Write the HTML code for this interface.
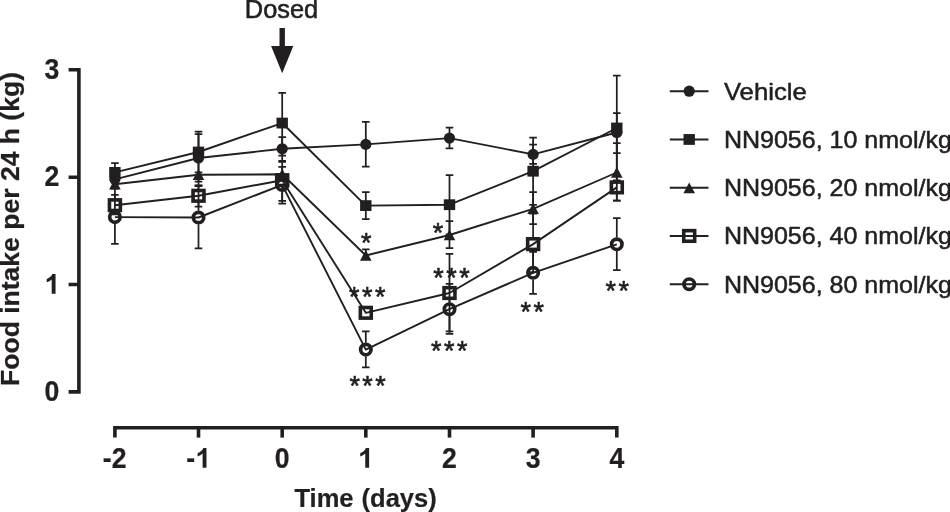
<!DOCTYPE html>
<html><head><meta charset="utf-8"><title>chart</title>
<style>html,body{margin:0;padding:0;background:#fff;}body{width:950px;height:512px;overflow:hidden;}svg{display:block;will-change:transform;}text{font-family:"Liberation Sans",sans-serif;fill:#231f20;}</style>
</head><body>
<svg width="950" height="512" viewBox="0 0 950 512">
<rect width="950" height="512" fill="#fff"/>
<g stroke="#231f20" stroke-width="3.6" fill="none" stroke-linecap="butt">
<path d="M68.6 69.8 H78.9 V391.9 H68.6"/>
<path d="M78.9 177.2 H68.6 M78.9 284.5 H68.6" />
<path d="M114.9 437.6 V427.7 H616.8 V437.6"/>
<path d="M198.5 427.7 V437.6"/>
<path d="M282.2 427.7 V437.6"/>
<path d="M365.8 427.7 V437.6"/>
<path d="M449.5 427.7 V437.6"/>
<path d="M533.1 427.7 V437.6"/>
</g>
<text transform="translate(59.3 78.8) scale(0.93 1)" font-size="28.6px" text-anchor="end" font-weight="bold" stroke="#231f20" stroke-width="0.25" stroke-linejoin="round">3</text>
<text transform="translate(59.3 186.2) scale(0.93 1)" font-size="28.6px" text-anchor="end" font-weight="bold" stroke="#231f20" stroke-width="0.25" stroke-linejoin="round">2</text>
<text transform="translate(59.3 400.9) scale(0.93 1)" font-size="28.6px" text-anchor="end" font-weight="bold" stroke="#231f20" stroke-width="0.25" stroke-linejoin="round">0</text>
<path d="M55.55 293.70 L51.68 293.70 L51.68 279.48 Q49.56 281.41 46.68 282.34 L46.68 278.92 Q48.20 278.43 49.97 277.08 Q51.75 275.73 52.41 273.93 L55.55 273.93 Z" fill="#231f20"/>
<text transform="translate(114.7 468.0) scale(0.93 1)" font-size="28.6px" text-anchor="middle" font-weight="bold" stroke="#231f20" stroke-width="0.25" stroke-linejoin="round">-2</text>
<text transform="translate(282.2 468.0) scale(0.93 1)" font-size="28.6px" text-anchor="middle" font-weight="bold" stroke="#231f20" stroke-width="0.25" stroke-linejoin="round">0</text>
<text transform="translate(449.5 468.0) scale(0.93 1)" font-size="28.6px" text-anchor="middle" font-weight="bold" stroke="#231f20" stroke-width="0.25" stroke-linejoin="round">2</text>
<text transform="translate(533.1 468.0) scale(0.93 1)" font-size="28.6px" text-anchor="middle" font-weight="bold" stroke="#231f20" stroke-width="0.25" stroke-linejoin="round">3</text>
<text transform="translate(616.8 468.0) scale(0.93 1)" font-size="28.6px" text-anchor="middle" font-weight="bold" stroke="#231f20" stroke-width="0.25" stroke-linejoin="round">4</text>
<path d="M369.12 467.80 L365.25 467.80 L365.25 453.58 Q363.13 455.51 360.25 456.44 L360.25 453.02 Q361.77 452.53 363.54 451.18 Q365.32 449.83 365.98 448.03 L369.12 448.03 Z" fill="#231f20"/>
<path d="M206.47 467.80 L202.60 467.80 L202.60 453.58 Q200.48 455.51 197.60 456.44 L197.60 453.02 Q199.12 452.53 200.89 451.18 Q202.67 449.83 203.33 448.03 L206.47 448.03 Z" fill="#231f20"/>
<text transform="translate(186.35000000000002 468.0) scale(0.93 1)" font-size="28.6px" text-anchor="start" font-weight="bold" stroke="#231f20" stroke-width="0.25" stroke-linejoin="round">-</text>
<text transform="translate(365.6 507.3) scale(1.0 1)" font-size="25.5px" text-anchor="middle" font-weight="bold" stroke="#231f20" stroke-width="0.2" stroke-linejoin="round" word-spacing="1">Time (days)</text>
<text font-weight="bold" font-size="25px" text-anchor="middle" stroke="#231f20" stroke-width="0.25" transform="translate(18.5 229) rotate(-90) scale(1.062 1)">Food intake per 24 h (kg)</text>
<text transform="translate(281.5 17.9) scale(1.0 1)" font-size="25.4px" text-anchor="middle" stroke="#231f20" stroke-width="0.55" stroke-linejoin="round">Dosed</text>
<path d="M279.5 28.1 H284.9 V46.1 H293.3 L282.2 73.2 L271.1 46.1 H279.5 Z" fill="#231f20"/>
<g stroke="#231f20" stroke-width="1.75" fill="none">
<path d="M198.5 158 V134.2 M194.7 134.2 H202.3"/>
<path d="M198.5 158 V181.6 M194.7 181.6 H202.3"/>
<path d="M282.2 148.8 V137.0 M278.4 137.0 H286.0"/>
<path d="M282.2 148.8 V160.8 M278.4 160.8 H286.0"/>
<path d="M365.8 144.4 V121.9 M362.0 121.9 H369.6"/>
<path d="M365.8 144.4 V166.6 M362.0 166.6 H369.6"/>
<path d="M449.5 138.1 V127.5 M445.7 127.5 H453.3"/>
<path d="M449.5 138.1 V148.4 M445.7 148.4 H453.3"/>
<path d="M533.1 154.4 V144.6 M529.3000000000001 144.6 H536.9"/>
<path d="M533.1 154.4 V163.85 M529.3000000000001 163.85 H536.9"/>
<path d="M616.8 132.5 V113.1 M613.0 113.1 H620.5999999999999"/>
<path d="M616.8 132.5 V153.1 M613.0 153.1 H620.5999999999999"/>
<path d="M114.9 172.4 V163.20000000000002 M111.10000000000001 163.20000000000002 H118.7"/>
<path d="M198.5 152 V131.6 M194.7 131.6 H202.3"/>
<path d="M198.5 152 V172.3 M194.7 172.3 H202.3"/>
<path d="M282.2 123.05 V92.8 M278.4 92.8 H286.0"/>
<path d="M282.2 123.05 V155.5 M278.4 155.5 H286.0"/>
<path d="M365.8 205.6 V192.2 M362.0 192.2 H369.6"/>
<path d="M365.8 205.6 V219.2 M362.0 219.2 H369.6"/>
<path d="M449.5 204.7 V175.0 M445.7 175.0 H453.3"/>
<path d="M449.5 204.7 V234.39999999999998 M445.7 234.39999999999998 H453.3"/>
<path d="M533.1 171.2 V137.6 M529.3000000000001 137.6 H536.9"/>
<path d="M533.1 171.2 V204.79999999999998 M529.3000000000001 204.79999999999998 H536.9"/>
<path d="M616.8 128 V75.6 M613.0 75.6 H620.5999999999999"/>
<path d="M616.8 128 V180.4 M613.0 180.4 H620.5999999999999"/>
<path d="M198.5 174.8 V185.60000000000002 M194.7 185.60000000000002 H202.3"/>
<path d="M282.2 174.3 V166.9 M278.4 166.9 H286.0"/>
<path d="M365.8 255.5 V249.4 M362.0 249.4 H369.6"/>
<path d="M449.5 235 V221.1 M445.7 221.1 H453.3"/>
<path d="M449.5 235 V248.1 M445.7 248.1 H453.3"/>
<path d="M533.1 208.8 V192.0 M529.3000000000001 192.0 H536.9"/>
<path d="M533.1 208.8 V224.10000000000002 M529.3000000000001 224.10000000000002 H536.9"/>
<path d="M616.8 172.5 V143.1 M613.0 143.1 H620.5999999999999"/>
<path d="M616.8 172.5 V200.6 M613.0 200.6 H620.5999999999999"/>
<path d="M114.9 198.39999999999998 V194.79999999999998 M111.10000000000001 194.79999999999998 H118.7"/>
<path d="M114.9 212.0 V214.39999999999998 M111.10000000000001 214.39999999999998 H118.7"/>
<path d="M198.5 189.0 V185.4 M194.7 185.4 H202.3"/>
<path d="M198.5 202.60000000000002 V206.60000000000002 M194.7 206.60000000000002 H202.3"/>
<path d="M282.2 173.39999999999998 V161.89999999999998 M278.4 161.89999999999998 H286.0"/>
<path d="M282.2 187.0 V200.79999999999998 M278.4 200.79999999999998 H286.0"/>
<path d="M449.5 286.2 V253.8 M445.7 253.8 H453.3"/>
<path d="M449.5 299.8 V331.3 M445.7 331.3 H453.3"/>
<path d="M533.1 237.29999999999998 V213.6 M529.3000000000001 213.6 H536.9"/>
<path d="M533.1 250.9 V272.1 M529.3000000000001 272.1 H536.9"/>
<path d="M616.8 194.20000000000002 V200.6 M613.0 200.6 H620.5999999999999"/>
<path d="M114.9 210.29999999999998 V188.7 M111.10000000000001 188.7 H118.7"/>
<path d="M114.9 223.9 V243.9 M111.10000000000001 243.9 H118.7"/>
<path d="M198.5 210.7 V186.2 M194.7 186.2 H202.3"/>
<path d="M198.5 224.3 V248.4 M194.7 248.4 H202.3"/>
<path d="M282.2 191.70000000000002 V203.70000000000002 M278.4 203.70000000000002 H286.0"/>
<path d="M365.8 342.8 V331.40000000000003 M362.0 331.40000000000003 H369.6"/>
<path d="M365.8 356.40000000000003 V367.3 M362.0 367.3 H369.6"/>
<path d="M449.5 302.4 V283.8 M445.7 283.8 H453.3"/>
<path d="M449.5 316.0 V333.8 M445.7 333.8 H453.3"/>
<path d="M533.1 266.0 V251.8 M529.3000000000001 251.8 H536.9"/>
<path d="M533.1 279.6 V293.8 M529.3000000000001 293.8 H536.9"/>
<path d="M616.8 237.5 V218.20000000000002 M613.0 218.20000000000002 H620.5999999999999"/>
<path d="M616.8 251.10000000000002 V270.1 M613.0 270.1 H620.5999999999999"/>
</g>
<g stroke="#231f20" stroke-width="1.9" fill="none" stroke-linejoin="round">
<path d="M114.9 179.3 L198.5 158 L282.2 148.8 L365.8 144.4 L449.5 138.1 L533.1 154.4 L616.8 132.5"/>
<path d="M114.9 172.4 L198.5 152 L282.2 123.05 L365.8 205.6 L449.5 204.7 L533.1 171.2 L616.8 128"/>
<path d="M114.9 184.2 L198.5 174.8 L282.2 174.3 L365.8 255.5 L449.5 235 L533.1 208.8 L616.8 172.5"/>
<path d="M114.9 205.2 L198.5 195.8 L282.2 180.2 L365.8 312.8 L449.5 293 L533.1 244.1 L616.8 187.4"/>
<path d="M114.9 217.1 L198.5 217.5 L282.2 184.9 L365.8 349.6 L449.5 309.2 L533.1 272.8 L616.8 244.3"/>
</g>
<circle cx="114.9" cy="217.1" r="5.2" fill="none" stroke="#231f20" stroke-width="3.7"/>
<circle cx="198.5" cy="217.5" r="5.2" fill="none" stroke="#231f20" stroke-width="3.7"/>
<circle cx="282.2" cy="184.9" r="5.2" fill="none" stroke="#231f20" stroke-width="3.7"/>
<circle cx="365.8" cy="349.6" r="5.2" fill="none" stroke="#231f20" stroke-width="3.7"/>
<circle cx="449.5" cy="309.2" r="5.2" fill="none" stroke="#231f20" stroke-width="3.7"/>
<circle cx="533.1" cy="272.8" r="5.2" fill="none" stroke="#231f20" stroke-width="3.7"/>
<circle cx="616.8" cy="244.3" r="5.2" fill="none" stroke="#231f20" stroke-width="3.7"/>
<rect x="109.45" y="199.89999999999998" width="10.9" height="10.6" fill="none" stroke="#231f20" stroke-width="3.6"/>
<rect x="193.05" y="190.5" width="10.9" height="10.6" fill="none" stroke="#231f20" stroke-width="3.6"/>
<rect x="276.75" y="174.89999999999998" width="10.9" height="10.6" fill="none" stroke="#231f20" stroke-width="3.6"/>
<rect x="360.35" y="307.5" width="10.9" height="10.6" fill="none" stroke="#231f20" stroke-width="3.6"/>
<rect x="444.05" y="287.7" width="10.9" height="10.6" fill="none" stroke="#231f20" stroke-width="3.6"/>
<rect x="527.65" y="238.79999999999998" width="10.9" height="10.6" fill="none" stroke="#231f20" stroke-width="3.6"/>
<rect x="611.3499999999999" y="182.1" width="10.9" height="10.6" fill="none" stroke="#231f20" stroke-width="3.6"/>
<path d="M114.9 178.6 L120.7 189.5 L109.10000000000001 189.5 Z" fill="#231f20"/>
<path d="M198.5 169.20000000000002 L204.3 180.10000000000002 L192.7 180.10000000000002 Z" fill="#231f20"/>
<path d="M282.2 168.70000000000002 L288.0 179.60000000000002 L276.4 179.60000000000002 Z" fill="#231f20"/>
<path d="M365.8 249.9 L371.6 260.8 L360.0 260.8 Z" fill="#231f20"/>
<path d="M449.5 229.4 L455.3 240.3 L443.7 240.3 Z" fill="#231f20"/>
<path d="M533.1 203.20000000000002 L538.9 214.10000000000002 L527.3000000000001 214.10000000000002 Z" fill="#231f20"/>
<path d="M616.8 166.9 L622.5999999999999 177.8 L611.0 177.8 Z" fill="#231f20"/>
<rect x="109.2" y="167.0" width="11.4" height="10.8" fill="#231f20"/>
<rect x="192.8" y="146.6" width="11.4" height="10.8" fill="#231f20"/>
<rect x="276.5" y="117.64999999999999" width="11.4" height="10.8" fill="#231f20"/>
<rect x="360.1" y="200.2" width="11.4" height="10.8" fill="#231f20"/>
<rect x="443.8" y="199.29999999999998" width="11.4" height="10.8" fill="#231f20"/>
<rect x="527.4" y="165.79999999999998" width="11.4" height="10.8" fill="#231f20"/>
<rect x="611.0999999999999" y="122.6" width="11.4" height="10.8" fill="#231f20"/>
<circle cx="114.9" cy="179.3" r="5.6" fill="#231f20"/>
<circle cx="198.5" cy="158" r="5.6" fill="#231f20"/>
<circle cx="282.2" cy="148.8" r="5.6" fill="#231f20"/>
<circle cx="365.8" cy="144.4" r="5.6" fill="#231f20"/>
<circle cx="449.5" cy="138.1" r="5.6" fill="#231f20"/>
<circle cx="533.1" cy="154.4" r="5.6" fill="#231f20"/>
<circle cx="616.8" cy="132.5" r="5.6" fill="#231f20"/>
<text font-size="26.8px" text-anchor="middle" letter-spacing="2.55" stroke="#231f20" stroke-width="0.6" stroke-linejoin="round" x="367.57" y="251.6">*</text>
<text font-size="26.8px" text-anchor="middle" letter-spacing="2.55" stroke="#231f20" stroke-width="0.6" stroke-linejoin="round" x="439.27" y="241.8">*</text>
<text font-size="26.8px" text-anchor="middle" letter-spacing="2.55" stroke="#231f20" stroke-width="0.6" stroke-linejoin="round" x="368.46999999999997" y="306.0">***</text>
<text font-size="26.8px" text-anchor="middle" letter-spacing="2.55" stroke="#231f20" stroke-width="0.6" stroke-linejoin="round" x="368.87" y="394.8">***</text>
<text font-size="26.8px" text-anchor="middle" letter-spacing="2.55" stroke="#231f20" stroke-width="0.6" stroke-linejoin="round" x="452.77" y="286.7">***</text>
<text font-size="26.8px" text-anchor="middle" letter-spacing="2.55" stroke="#231f20" stroke-width="0.6" stroke-linejoin="round" x="450.46999999999997" y="360.3">***</text>
<text font-size="26.8px" text-anchor="middle" letter-spacing="2.55" stroke="#231f20" stroke-width="0.6" stroke-linejoin="round" x="533.5699999999999" y="320.5">**</text>
<text font-size="26.8px" text-anchor="middle" letter-spacing="2.55" stroke="#231f20" stroke-width="0.6" stroke-linejoin="round" x="618.47" y="299.8">**</text>
<path d="M669.8 91.2 H708.5" stroke="#231f20" stroke-width="1.9"/>
<circle cx="689.2" cy="91.2" r="5.6" fill="#231f20"/>
<text transform="translate(723.9 99.7) scale(1.08 1)" font-size="23.8px" text-anchor="start" stroke="#231f20" stroke-width="0.5" stroke-linejoin="round">Vehicle</text>
<path d="M669.8 139.45 H708.5" stroke="#231f20" stroke-width="1.9"/>
<rect x="683.5" y="134.04999999999998" width="11.4" height="10.8" fill="#231f20"/>
<text transform="translate(723.9 147.95) scale(1.052 1)" font-size="23.8px" text-anchor="start" stroke="#231f20" stroke-width="0.5" stroke-linejoin="round">NN9056, 10 nmol/kg</text>
<path d="M669.8 187.7 H708.5" stroke="#231f20" stroke-width="1.9"/>
<path d="M689.2 182.4 L695.0 193.3 L683.4000000000001 193.3 Z" fill="#231f20"/>
<text transform="translate(723.9 196.2) scale(1.052 1)" font-size="23.8px" text-anchor="start" stroke="#231f20" stroke-width="0.5" stroke-linejoin="round">NN9056, 20 nmol/kg</text>
<path d="M669.8 235.95 H708.5" stroke="#231f20" stroke-width="1.9"/>
<rect x="683.75" y="230.64999999999998" width="10.9" height="10.6" fill="none" stroke="#231f20" stroke-width="3.6"/>
<text transform="translate(723.9 244.45) scale(1.052 1)" font-size="23.8px" text-anchor="start" stroke="#231f20" stroke-width="0.5" stroke-linejoin="round">NN9056, 40 nmol/kg</text>
<path d="M669.8 284.2 H708.5" stroke="#231f20" stroke-width="1.9"/>
<circle cx="689.2" cy="284.2" r="5.2" fill="none" stroke="#231f20" stroke-width="3.7"/>
<text transform="translate(723.9 292.7) scale(1.052 1)" font-size="23.8px" text-anchor="start" stroke="#231f20" stroke-width="0.5" stroke-linejoin="round">NN9056, 80 nmol/kg</text>
</svg></body></html>
